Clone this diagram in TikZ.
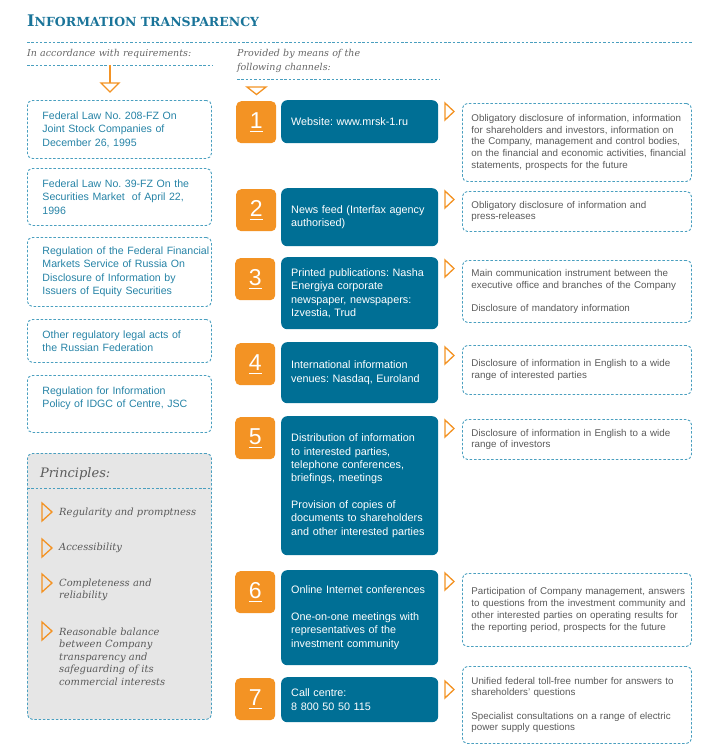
\documentclass[tikz,border=0pt]{standalone}
\usepackage{fontspec}
\setmainfont{Liberation Sans}
\newfontfamily\serifit{DejaVu Serif}
\definecolor{boxblue}{HTML}{006F95}
\definecolor{titleblue}{HTML}{1A7499}
\definecolor{dashblue}{HTML}{4A9FBF}
\definecolor{lefttext}{HTML}{2683A6}
\definecolor{orng}{HTML}{F39324}
\definecolor{graytext}{HTML}{5A5A5A}
\definecolor{hdrgray}{HTML}{666666}
\definecolor{graybg}{HTML}{E6E6E6}
\newcommand\numtxt[1]{\setbox0\hbox{#1}\leavevmode\copy0\llap{\rule[-3.5pt]{\wd0}{1.3pt}}}
\frenchspacing
\hyphenpenalty=10000
\exhyphenpenalty=10000
\hbadness=10000
\hfuzz=20pt
\begin{document}
\begin{tikzpicture}[x=1pt,y=-1pt,
  dashline/.style={draw=dashblue, line width=0.9pt, dash pattern=on 2.5pt off 1.8pt},
  dashbox/.style={dashline, rounded corners=5pt, anchor=north west, inner ysep=0pt},
  lefttxt/.style={dashbox, text=lefttext, font=\fontsize{10.6}{13.4}\selectfont, text width=180pt, inner xsep=2pt, align=left, execute at begin node={\leftskip=13pt}},
  bluebox/.style={fill=boxblue, rounded corners=6pt, text=white, font=\fontsize{10.8}{13.3}\selectfont, text width=149pt, inner xsep=4pt, inner ysep=0pt, align=left, anchor=north west, execute at begin node={\leftskip=6pt}},
  numbox/.style={fill=orng, rounded corners=5pt, minimum width=40pt, minimum height=42pt, anchor=north west, text=white, font=\fontsize{23}{23}\selectfont, inner sep=0pt},
  righttxt/.style={dashbox, text=graytext, font=\fontsize{9.8}{11.7}\selectfont, text width=221pt, inner xsep=4pt, align=left, execute at begin node={\leftskip=5pt}},
  tri/.style={draw=orng, line width=1.3pt, line join=miter},
  hdr/.style={anchor=base west, inner sep=0pt, text=hdrgray, font=\serifit\itshape\fontsize{9.5}{13.7}\selectfont, align=left, text width=220pt},
  prtxt/.style={anchor=base west, inner sep=0pt, text=graytext, font=\serifit\itshape\fontsize{9.9}{12.4}\selectfont, align=left, text width=145pt}
]
\useasboundingbox (0,0) rectangle (718,752);

% title
\node[anchor=base west, inner sep=0pt, text=titleblue] (title) at (27,27)
  {\serifit\bfseries\fontsize{16}{16}\selectfont I\fontsize{12.5}{12.5}\selectfont NFORMATION TRANSPARENCY};
\coordinate (tl) at (27,42);
\coordinate (tr) at (692,42);
\draw[dashline] (tl) -- (tr);

% column headers
\node[hdr] (hleft) at (27,57) {In accordance with requirements:};
\coordinate (hl1) at (27,65);
\coordinate (hl2) at (212,65);
\draw[dashline] (hl1) -- (hl2);
\node[hdr] (hright) at (237,57) {Provided by means of the\\following channels:};
\coordinate (hr1) at (237,79);
\coordinate (hr2) at (440,79);
\draw[dashline] (hr1) -- (hr2);

% header arrows
\coordinate (la) at (110,65);
\coordinate (lb) at (110,83);
\draw[orng, line width=1.3pt] (la) -- (lb);
\draw[tri] (101,83) -- (119,83) -- (110,92) -- cycle;
\draw[tri] (247,87) -- (266,87) -- (256.5,94.5) -- cycle;

% left boxes
\node[lefttxt, minimum height=58pt] (l1) at (27,100) {Federal Law No. 208-FZ On\\Joint Stock Companies of\\December 26, 1995};
\node[lefttxt, minimum height=57pt] (l2) at (27,168) {Federal Law No. 39-FZ On the\\Securities Market\ \ of April 22,\\1996};
\node[lefttxt, minimum height=69pt] (l3) at (27,237) {\mbox{Regulation of the Federal Financial}\\Markets Service of Russia On\\Disclosure of Information by\\Issuers of Equity Securities};
\node[lefttxt, minimum height=43pt] (l4) at (27,319) {Other regulatory legal acts of\\the Russian Federation};
\node[lefttxt, minimum height=57pt] (l5) at (27,375) {Regulation for Information\\Policy of IDGC of Centre, JSC\\\mbox{}};

% principles
\node[dashbox, fill=graybg, minimum width=184pt, minimum height=266pt] (pr) at (27,453) {};
\draw[dashline] (pr.west |- 0,488) -- (pr.east |- 0,488);
\node[anchor=base west, inner sep=0pt, text=graytext, font=\serifit\itshape\fontsize{13}{13}\selectfont] (prh) at (40,477) {Principles:};
\draw[tri] (42,503) -- ++(10,9) -- ++(-10,9) -- cycle;
\node[prtxt] (p1) at (59,515.5) {Regularity and promptness};
\draw[tri] (42,539) -- ++(10,9) -- ++(-10,9) -- cycle;
\node[prtxt] (p2) at (59,550.5) {Accessibility};
\draw[tri] (42,574) -- ++(10,9) -- ++(-10,9) -- cycle;
\node[prtxt] (p3) at (59,586.5) {Completeness and\\reliability};
\draw[tri] (42,622) -- ++(10,9) -- ++(-10,9) -- cycle;
\node[prtxt] (p4) at (59,635.5) {Reasonable balance\\between Company\\transparency and\\safeguarding of its\\commercial interests};

% number boxes
\node[numbox] (n1) at (236,101) {\numtxt{1}};
\node[numbox] (n2) at (236,189) {\numtxt{2}};
\node[numbox] (n3) at (235,258) {\numtxt{3}};
\node[numbox] (n4) at (235,343) {\numtxt{4}};
\node[numbox] (n5) at (235,417) {\numtxt{5}};
\node[numbox] (n6) at (235,571) {\numtxt{6}};
\node[numbox] (n7) at (235,678) {\numtxt{7}};

% blue channel boxes
\node[bluebox, minimum height=43pt] (b1) at (281,100) {Website: www.mrsk-1.ru};
\node[bluebox, minimum height=58pt] (b2) at (281,188) {News feed (Interfax agency\\authorised)};
\node[bluebox, minimum height=72pt] (b3) at (281,257) {Printed publications: Nasha\\Energiya corporate\\newspaper, newspapers:\\Izvestia, Trud};
\node[bluebox, minimum height=61pt] (b4) at (281,342) {International information\\venues: Nasdaq, Euroland};
\node[bluebox, minimum height=139pt] (b5) at (281,416) {Distribution of information\\to interested parties,\\telephone conferences,\\briefings, meetings\\[13.3pt]Provision of copies of\\documents to shareholders\\and other interested parties};
\node[bluebox, minimum height=95pt] (b6) at (281,570) {Online Internet conferences\\[13.3pt]One-on-one meetings with\\representatives of the\\investment community};
\node[bluebox, minimum height=45pt] (b7) at (281,677) {Call centre:\\8 800 50 50 115};

% right boxes
\node[righttxt, minimum height=78pt] (r1) at (462,103) {Obligatory disclosure of information, information\\for shareholders and investors, information on\\the Company, management and control bodies,\\on the financial and economic activities, financial\\statements, prospects for the future};
\node[righttxt, minimum height=40pt] (r2) at (462,191) {Obligatory disclosure of information and\\press-releases};
\node[righttxt, minimum height=62pt] (r3) at (462,260) {Main communication instrument between the\\executive office and branches of the Company\\[11.7pt]Disclosure of mandatory information};
\node[righttxt, minimum height=49pt] (r4) at (462,345) {Disclosure of information in English to a wide\\range of interested parties};
\node[righttxt, minimum height=40pt] (r5) at (462,419) {Disclosure of information in English to a wide\\range of investors};
\node[righttxt, minimum height=73pt] (r6) at (462,573) {Participation of Company management, answers\\to questions from the investment community and\\other interested parties on operating results for\\the reporting period, prospects for the future};
\node[righttxt, minimum height=77pt] (r7) at (462,666) {Unified federal toll-free number for answers to\\shareholders' questions\\[11.7pt]Specialist consultations on a range of electric\\power supply questions};

% right arrows
\draw[tri] ([xshift=-17pt]r1.north west) -- ++(9,8.5) -- ++(-9,8.5) -- cycle;
\draw[tri] ([xshift=-17pt]r2.north west) -- ++(9,8.5) -- ++(-9,8.5) -- cycle;
\draw[tri] ([xshift=-17pt]r3.north west) -- ++(9,8.5) -- ++(-9,8.5) -- cycle;
\draw[tri] ([xshift=-17pt,yshift=-2pt]r4.north west) -- ++(9,8.5) -- ++(-9,8.5) -- cycle;
\draw[tri] ([xshift=-17pt,yshift=-1pt]r5.north west) -- ++(9,8.5) -- ++(-9,8.5) -- cycle;
\draw[tri] ([xshift=-17pt]r6.north west) -- ++(9,8.5) -- ++(-9,8.5) -- cycle;
\draw[tri] ([xshift=-17pt,yshift=-15pt]r7.north west) -- ++(9,8.5) -- ++(-9,8.5) -- cycle;
\end{tikzpicture}
\end{document}
